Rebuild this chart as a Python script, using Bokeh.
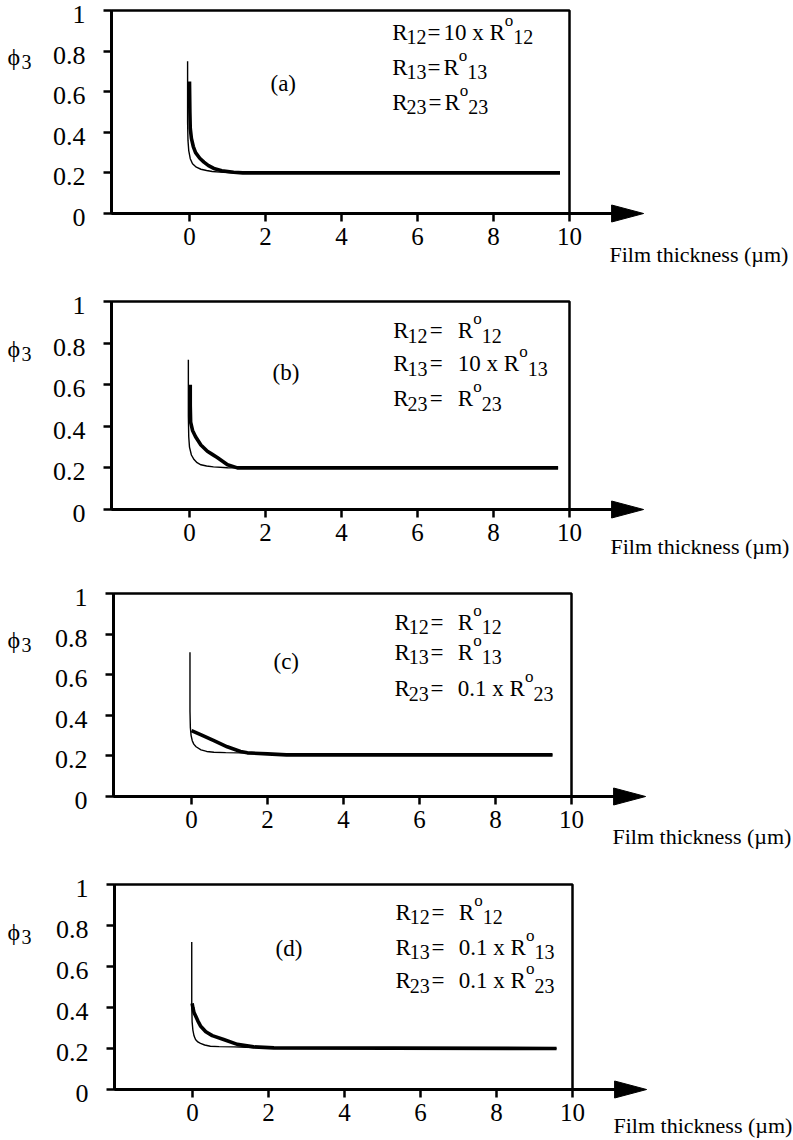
from bokeh.plotting import figure
from bokeh.layouts import column
from bokeh.models import (Range1d, FixedTicker, BoxAnnotation, PolyAnnotation, Label,
                          LinearAxis)
from bokeh.embed import file_html
from bokeh.resources import INLINE

# ---------------- data ----------------
x_ticks = [0, 2, 4, 6, 8, 10]
x_tick_labels = ["0", "2", "4", "6", "8", "10"]
y_ticks = [0, 0.2, 0.4, 0.6, 0.8, 1]
y_tick_labels = ["0", "0.2", "0.4", "0.6", "0.8", "1"]
x_axis_title = "Film thickness (\u00b5m)"
y_axis_symbol = "\u03d5"
y_axis_sub = "3"
panel_tags = ["(a)", "(b)", "(c)", "(d)"]
pairs = ["12", "13", "23"]
multipliers = [
    ["10 x ", "", ""],
    ["", "10 x ", ""],
    ["", "", "0.1 x "],
    ["", "0.1 x ", "0.1 x "],
]

a_thin_x = [-0.05, -0.05, -0.04, -0.02, 0.02, 0.08, 0.18, 0.3, 0.45, 0.6, 0.8, 1.1, 1.4, 9.75]
a_thin_y = [0.75, 0.45, 0.36, 0.31, 0.27, 0.245, 0.228, 0.218, 0.212, 0.207, 0.204, 0.201, 0.2, 0.2]
a_thick_x = [0.0, 0.01, 0.02, 0.05, 0.1, 0.16, 0.27, 0.38, 0.5, 0.64, 0.85, 1.16, 1.4, 9.75]
a_thick_y = [0.65, 0.5, 0.42, 0.37, 0.33, 0.30, 0.272, 0.253, 0.236, 0.222, 0.211, 0.203, 0.2, 0.2]

b_thin_x = [-0.03, -0.03, -0.02, 0.0, 0.05, 0.12, 0.2, 0.3, 0.45, 0.63, 1.0, 1.3, 9.7]
b_thin_y = [0.72, 0.45, 0.35, 0.3, 0.262, 0.24, 0.225, 0.215, 0.209, 0.205, 0.201, 0.2, 0.2]
b_thick_x = [0.02, 0.02, 0.03, 0.08, 0.16, 0.3, 0.47, 0.6, 0.73, 0.87, 1.0, 1.26, 9.7]
b_thick_y = [0.6, 0.5, 0.42, 0.38, 0.35, 0.31, 0.28, 0.265, 0.25, 0.232, 0.215, 0.2, 0.2]

c_thin_x = [-0.04, -0.04, -0.03, -0.01, 0.02, 0.06, 0.12, 0.25, 0.4, 0.59, 0.9, 1.3, 1.47, 2.0, 2.5, 9.5]
c_thin_y = [0.71, 0.42, 0.34, 0.3, 0.275, 0.258, 0.245, 0.23, 0.222, 0.218, 0.216, 0.215, 0.215, 0.21, 0.205, 0.205]
c_thick_x = [0.0, 0.24, 0.59, 0.94, 1.29, 1.47, 2.0, 2.5, 9.5]
c_thick_y = [0.325, 0.305, 0.275, 0.245, 0.222, 0.215, 0.21, 0.205, 0.205]

d_thin_x = [-0.02, -0.02, -0.01, 0.01, 0.04, 0.08, 0.14, 0.21, 0.32, 0.47, 0.7, 1.09, 1.4, 2.14, 9.58]
d_thin_y = [0.72, 0.42, 0.33, 0.29, 0.262, 0.244, 0.232, 0.225, 0.217, 0.211, 0.209, 0.208, 0.206, 0.203, 0.2]
d_thick_x = [-0.01, 0.01, 0.04, 0.08, 0.14, 0.21, 0.35, 0.52, 0.82, 1.18, 1.61, 2.14, 9.58]
d_thick_y = [0.42, 0.4, 0.375, 0.36, 0.335, 0.31, 0.282, 0.263, 0.244, 0.22, 0.208, 0.203, 0.2]

thin_series = [(a_thin_x, a_thin_y), (b_thin_x, b_thin_y), (c_thin_x, c_thin_y), (d_thin_x, d_thin_y)]
thick_series = [(a_thick_x, a_thick_y), (b_thick_x, b_thick_y), (c_thick_x, c_thick_y), (d_thick_x, d_thick_y)]

# ---------------- layout (page pixels) ----------------
FONT = "Liberation Serif"
PX = 38.0
X_START = -2.05
X_FRAME_RIGHT = 10
ARROW_TIP = 11.95
ARROW_LEN_PX = 32
ARROW_HALF_PX = 8.5
FIG_W = 793
F_MAIN, F_SUB, F_SUP = 23, 20, 17
LABEL_DROP_PX = 4

layouts = [
    dict(fig_top=0, fig_bot=270, top=10, h=203, x0=189, tag=(270, 83),
         lines=[(391.7, 427, 442, 31.7), (391.7, 427, 441.7, 66.7), (391.7, 428, 441.7, 101.7)],
         xt=(609, 254)),
    dict(fig_top=270, fig_bot=565, top=301, h=208, x0=189, tag=(272, 372),
         lines=[(392.7, 429.3, 457.3, 330), (392.7, 429.3, 457.3, 363.3), (392.7, 429.3, 457.3, 398.3)],
         xt=(610, 546)),
    dict(fig_top=565, fig_bot=855, top=593, h=203, x0=191, tag=(273, 661),
         lines=[(394, 430, 457.3, 621.7), (394, 430, 457.3, 651.7), (394, 430, 457.3, 688.3)],
         xt=(612, 836)),
    dict(fig_top=855, fig_bot=1139, top=884, h=205, x0=192, tag=(275, 948),
         lines=[(395, 431, 458.3, 911.7), (395, 431, 458.3, 946.7), (395, 431, 458.3, 980)],
         xt=(613, 1125)),
]

# Times-like advance widths (em)
ADV = {"R": 0.667, "x": 0.5, " ": 0.25, ".": 0.25, "=": 0.564, "o": 0.5}


def text_w(s, size):
    return sum(ADV.get(c, 0.5) for c in s) * size


def label(p, x, y, text, size, baseline="alphabetic", align="left"):
    p.add_layout(Label(x=x, y=y, text=text, text_font=FONT, text_font_size=f"{size}px",
                       text_color="black", text_baseline=baseline, text_align=align))


def style_axis(ax, size):
    ax.axis_line_width = 3
    ax.axis_line_color = "black"
    ax.major_tick_line_width = 2.5
    ax.major_tick_line_color = "black"
    ax.major_tick_out = 8
    ax.major_tick_in = 0
    ax.minor_tick_line_color = None
    ax.major_label_text_font = FONT
    ax.major_label_text_font_size = f"{size}px"
    ax.major_label_text_color = "black"


def make_panel(i):
    lay = layouts[i]
    x0, top, h = lay["x0"], lay["top"], lay["h"]
    fh = lay["fig_bot"] - lay["fig_top"]

    def dx(px):
        return (px - x0) / PX

    def dy(py):
        return 1 - (py - top) / h

    y_lo, y_hi = dy(lay["fig_bot"]), dy(lay["fig_top"])
    shift = LABEL_DROP_PX / h
    p = figure(width=FIG_W, height=fh,
               x_range=Range1d(dx(0), dx(FIG_W)), y_range=Range1d(y_lo, y_hi),
               x_axis_location=None, y_axis_location=None,
               min_border=0, min_border_left=0, min_border_right=0,
               min_border_top=0, min_border_bottom=0,
               toolbar_location=None, output_backend="svg",
               outline_line_color=None, background_fill_color="white",
               border_fill_color="white")
    p.extra_y_ranges = {"lab": Range1d(y_lo + shift, y_hi + shift)}
    p.xgrid.visible = False
    p.ygrid.visible = False

    # x axis at y = 0
    xa = LinearAxis(fixed_location=0, ticker=FixedTicker(ticks=x_ticks),
                    major_label_overrides=dict(zip(x_ticks, x_tick_labels)),
                    bounds=(X_START, ARROW_TIP - ARROW_LEN_PX / PX + 0.05),
                    major_label_standoff=6)
    style_axis(xa, 25)
    p.add_layout(xa, "below")

    # y axis (line + ticks) at frame left
    ya = LinearAxis(fixed_location=X_START, ticker=FixedTicker(ticks=y_ticks),
                    major_label_overrides={v: "" for v in y_ticks}, bounds=(0, 1))
    style_axis(ya, 26)
    p.add_layout(ya, "left")

    # y tick labels (slightly lowered as in the scan)
    yl = LinearAxis(fixed_location=X_START, y_range_name="lab", ticker=FixedTicker(ticks=y_ticks),
                    major_label_overrides=dict(zip(y_ticks, y_tick_labels)), bounds=(0, 1),
                    major_label_standoff=18)
    style_axis(yl, 26)
    yl.axis_line_color = None
    yl.major_tick_line_color = None
    p.add_layout(yl, "left")

    # frame box
    p.add_layout(BoxAnnotation(left=X_START, right=X_FRAME_RIGHT, bottom=0, top=1,
                               fill_color=None, fill_alpha=0, line_color="black",
                               line_alpha=1, line_width=2.5))
    # arrow head
    hy = ARROW_HALF_PX / h
    base = ARROW_TIP - ARROW_LEN_PX / PX
    p.add_layout(PolyAnnotation(xs=[base, ARROW_TIP, base], ys=[hy, 0, -hy],
                                xs_units="data", ys_units="data",
                                fill_color="black", fill_alpha=1,
                                line_color="black", line_alpha=1, line_width=1))

    tx, ty = thin_series[i]
    kx, ky = thick_series[i]
    p.line(tx, ty, line_color="black", line_width=1.4)
    p.line(kx, ky, line_color="black", line_width=3.6)

    # panel tag
    label(p, dx(lay["tag"][0]), dy(lay["tag"][1]), panel_tags[i], 23, baseline="middle")

    # y symbol
    y08 = top + 0.2 * h
    label(p, dx(7), dy(y08 + 6), y_axis_symbol, 24, baseline="middle")
    label(p, dx(21), dy(y08 + 11), y_axis_sub, 20, baseline="middle")

    # x axis title
    label(p, dx(lay["xt"][0]), dy(lay["xt"][1]), x_axis_title, 22)

    # conditions
    for j, (xR, xeq, xrhs, b) in enumerate(lay["lines"]):
        pair = pairs[j]
        rhs = multipliers[i][j] + "R"
        xs1 = xR + 0.62 * F_MAIN
        xe = max(xeq, xs1 + text_w(pair, F_SUB) + 1)
        xr = max(xrhs, xe + text_w("=", F_MAIN) + 3)
        xo = xr + text_w(rhs, F_MAIN)
        xs2 = xo + 0.5 * F_SUP
        label(p, dx(xR), dy(b), "R", F_MAIN)
        label(p, dx(xs1), dy(b + 5), pair, F_SUB)
        label(p, dx(xe), dy(b), "=", F_MAIN)
        label(p, dx(xr), dy(b), rhs, F_MAIN)
        label(p, dx(xo), dy(b - 12), "o", F_SUP)
        label(p, dx(xs2), dy(b + 5), pair, F_SUB)
    return p


plots = [make_panel(i) for i in range(4)]
layout = column(*plots, spacing=0)
open("out.html", "w").write(file_html(layout, INLINE))
